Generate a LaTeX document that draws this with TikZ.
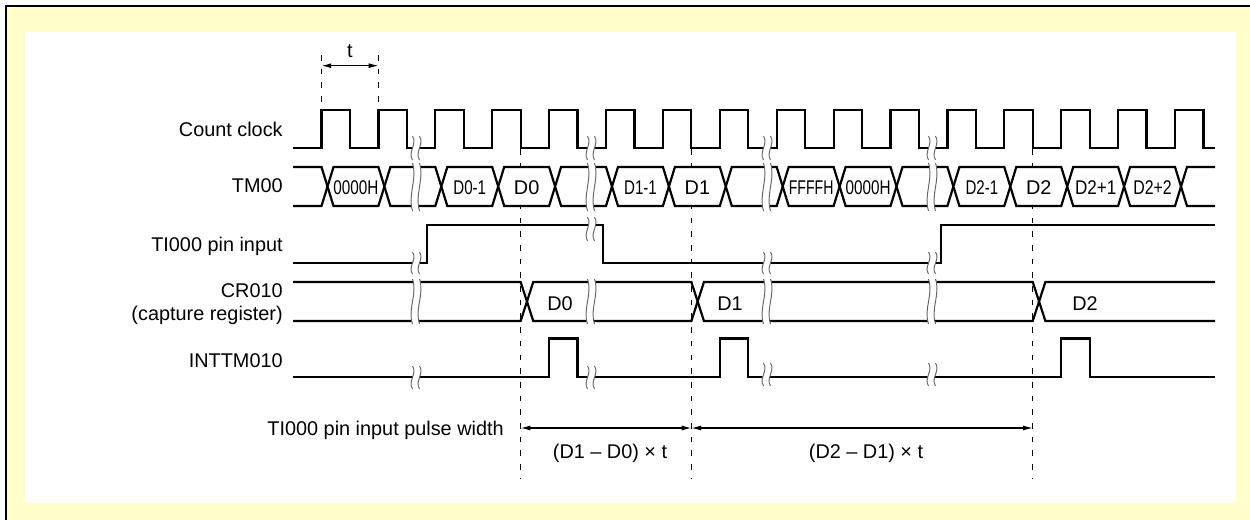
\documentclass[tikz,border=0pt]{standalone}
\usepackage{fontspec}
\setmainfont{Liberation Sans}
\usepackage{graphicx}
\usepackage{xcolor}
\usepackage{tikz}
\usetikzlibrary{arrows.meta}

\definecolor{framebg}{HTML}{FFFFCC}

% break mark: x, top, bottom
\newcommand{\sigbreak}[3]{%
  \fill[white] ({#1-3.5},#2) .. controls ({#1+1.5},{#2+(#3-#2)*0.35}) and ({#1-8.5},{#2+(#3-#2)*0.65}) .. ({#1-3.5},#3)
    -- ({#1+3.5},#3) .. controls ({#1-1.5},{#2+(#3-#2)*0.65}) and ({#1+8.5},{#2+(#3-#2)*0.35}) .. ({#1+3.5},#2) -- cycle;
  \draw[brk] ({#1-3.5},#2) .. controls ({#1+1.5},{#2+(#3-#2)*0.35}) and ({#1-8.5},{#2+(#3-#2)*0.65}) .. ({#1-3.5},#3);
  \draw[brk] ({#1+3.5},#2) .. controls ({#1+8.5},{#2+(#3-#2)*0.35}) and ({#1-1.5},{#2+(#3-#2)*0.65}) .. ({#1+3.5},#3);
}

\begin{document}
\begin{tikzpicture}[
                x=0.02cm, y=-0.02cm,
                sig/.style={line width=1.25pt},
                bus/.style={line width=1.25pt, fill=white},
                brk/.style={line width=0.55pt, black!60},
                guide/.style={line width=0.6pt, dash pattern=on 3.2pt off 4.6pt},
                dimarr/.style={line width=0.6pt, >={Latex[length=5.5pt,width=2.8pt]}, <->},
                lbl/.style={anchor=base east, inner sep=0pt},
                buslbl/.style={anchor=base, inner sep=0pt},
                font=\fontsize{11.3}{13.6}\selectfont
            ]
                \useasboundingbox (0,0) rectangle (1250,520);

                % --- FRAME ---
                \fill[framebg] (6,6) rectangle (1250,520);
                \fill[white] (25,32) rectangle (1236,503);
                \draw[line width=1.4pt] (6,520) -- (6,6) -- (1250,6);

                \def\tz{321.5}
                \def\per{56.9}
                \pgfmathsetmacro{\dA}{\tz+3.5*\per}
                \pgfmathsetmacro{\dB}{\tz+6.5*\per}
                \pgfmathsetmacro{\dC}{\tz+12.5*\per}

                % --- GUIDES ---
                \foreach \d in {\dA,\dB,\dC}
                    \draw[guide] (\d,149) -- (\d,478);
                \draw[guide] (\tz,55) -- (\tz,102);
                \draw[guide] (\tz+\per,55) -- (\tz+\per,102);
                \coordinate (tA) at (\tz,65.7);
                \coordinate (tB) at (\tz+\per,65.7);
                \draw[dimarr] (tA) -- (tB);
                \node[buslbl] (tlbl) at (\tz+\per/2,58) {t};

                % --- LABELS ---
                \node[lbl] (lclk) at (283,137) {Count clock};
                \node[lbl] (ltm) at (283,193) {TM00};
                \node[lbl] (lti) at (283,252) {TI000 pin input};
                \node[lbl] (lcr) at (283,297) {CR010};
                \node[lbl] (lcrb) at (283,320) {(capture register)};
                \node[lbl] (lint) at (283,367) {INTTM010};

                % --- COUNT CLOCK ---
                \draw[sig] (293,148) \foreach \k in {0,...,15}{
                    -- ({\tz+\k*\per},148) -- ({\tz+\k*\per},110)
                    -- ({\tz+(\k+0.5)*\per},110) -- ({\tz+(\k+0.5)*\per},148) } -- (1215,148);

                % --- TM00 ---
                \draw[sig] (293,167) -- (\tz,167) -- (\tz+6,186.5) -- (\tz,206) -- (293,206);
                \foreach \k in {0,...,14}{
                    \pgfmathsetmacro{\xa}{\tz+\k*\per}
                    \pgfmathsetmacro{\xb}{\tz+(\k+1)*\per}
                    \draw[bus] (\xa+6,186.5) -- (\xa+12,167) -- (\xb,167) -- (\xb+6,186.5)
                        -- (\xb,206) -- (\xa+12,206) -- cycle;
                }
                \pgfmathsetmacro{\xe}{\tz+15*\per}
                \draw[sig] (1215,167) -- (\xe+12,167) -- (\xe+6,186.5) -- (\xe+12,206) -- (1215,206);
                \foreach \k/\txt/\sx in {0/0000H/0.77, 2/D0-1/0.76, 3/D0/1, 5/D1-1/0.76, 6/D1/1,
                        8/FFFFH/0.71, 9/0000H/0.77, 11/D2-1/0.76, 12/D2/1, 13/D2+1/0.86, 14/D2+2/0.8}
                    \node[buslbl] (tm\k) at ({\tz+(\k+0.5)*\per+6},194.5) {\scalebox{\sx}[1]{\txt}};

                % --- TI000 ---
                \draw[sig] (293,263) -- (426.7,263) -- (426.7,225) -- (603.3,225) -- (603.3,263)
                    -- (940.7,263) -- (940.7,225) -- (1215,225);

                % --- CR010 ---
                \draw[sig] (293,282) -- (\dA,282) -- (\dA+12.6,321) -- (\dB,321) -- (\dB+12.6,282)
                    -- (\dC,282) -- (\dC+12.6,321) -- (1215,321);
                \draw[sig] (293,321) -- (\dA,321) -- (\dA+12.6,282) -- (\dB,282) -- (\dB+12.6,321)
                    -- (\dC,321) -- (\dC+12.6,282) -- (1215,282);
                \node[buslbl] (crA) at (560,310) {D0};
                \node[buslbl] (crB) at (730,310) {D1};
                \node[buslbl] (crC) at (1085,310) {D2};

                % --- INTTM010 ---
                \draw[sig] (293,377) \foreach \k in {4,7,13}{
                    -- ({\tz+\k*\per},377) -- ({\tz+\k*\per},338.5)
                    -- ({\tz+(\k+0.5)*\per},338.5) -- ({\tz+(\k+0.5)*\per},377) } -- (1215,377);

                % --- BREAKS ---
                \foreach \b in {416,591,767,932}{
                    \sigbreak{\b}{136}{160}
                    \sigbreak{\b}{163}{211}
                    \sigbreak{\b}{279}{324}
                }
                \sigbreak{416}{252}{274}
                \sigbreak{591}{217}{241}
                \sigbreak{767}{252}{274}
                \sigbreak{932}{252}{274}
                \sigbreak{416}{366}{389}
                \sigbreak{591}{366}{389}
                \sigbreak{767}{363}{386}
                \sigbreak{932}{363}{386}

                % --- PULSE WIDTH ---
                \node[lbl] (lpw) at (504,435) {TI000 pin input pulse width};
                \coordinate (pw0) at (\dA,428);
                \coordinate (pw1) at (\dB,428);
                \coordinate (pw2) at (\dC,428);
                \draw[dimarr] (pw0) -- (pw1);
                \draw[dimarr] (pw1) -- (pw2);
                \node[buslbl] (wA) at (610,458) {(D1 – D0) × t};
                \node[buslbl] (wB) at (866,458) {(D2 – D1) × t};

            \end{tikzpicture}
\end{document}
